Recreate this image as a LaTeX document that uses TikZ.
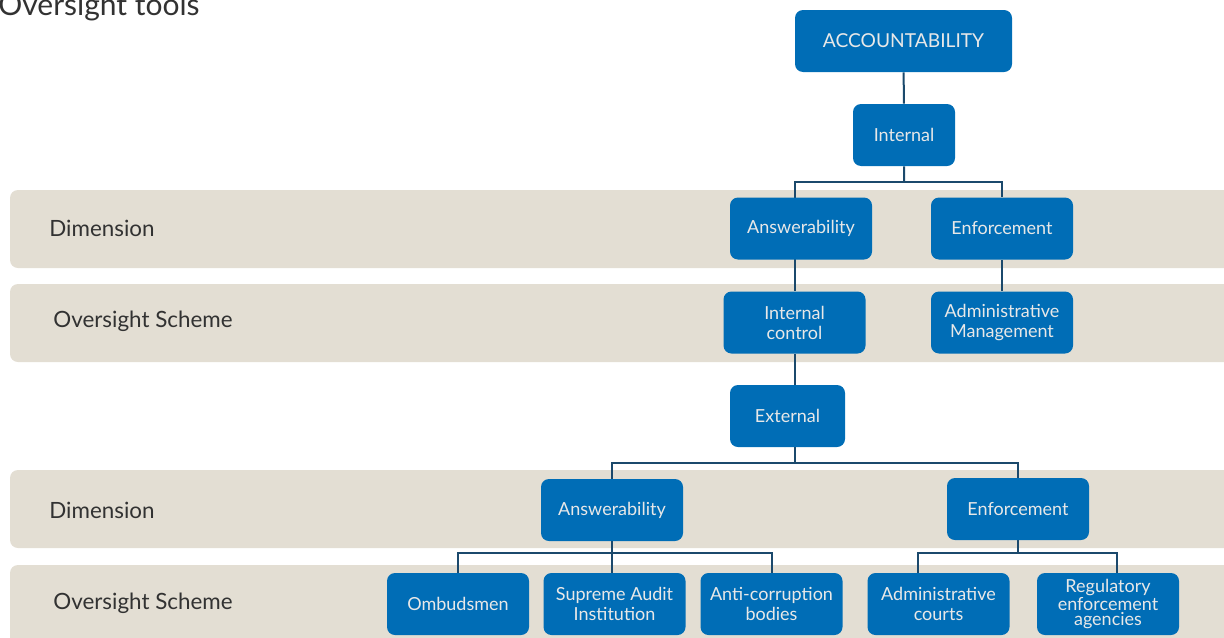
\documentclass[tikz,border=0pt]{standalone}
\usepackage{fontspec}
\setmainfont{Lato}
\definecolor{bandgray}{RGB}{227,222,211}
\definecolor{boxblue}{RGB}{0,109,182}
\definecolor{linkblue}{RGB}{27,73,108}
\definecolor{boxtext}{RGB}{232,232,232}
\definecolor{labeltext}{RGB}{50,50,50}
\pgfdeclarelayer{bands}
\pgfdeclarelayer{links}
\pgfsetlayers{bands,links,main}

\begin{document}
\begin{tikzpicture}[
	x=0.5pt, y=-0.5pt,
	box/.style={ rectangle, rounded corners=4pt, fill=boxblue, text=boxtext, align=center, inner sep=1pt, minimum width=71pt, minimum height=31pt, font=\fontsize{9}{10}\selectfont },
	link/.style={ linkblue, line width=1pt },
	band/.style={ fill=bandgray, rounded corners=4pt },
	bandlabel/.style={ anchor=west, inner sep=0pt, text=labeltext, font=\fontsize{11.2}{14}\selectfont }
]
\useasboundingbox (0,0) rectangle (1224,637);

\node at (-2,15) (title) [anchor=base west, inner sep=0pt, text=labeltext, font=\fontsize{15}{18}\selectfont] {Oversight tools};

% grey bands behind the tree
\begin{pgfonlayer}{bands}
\fill[band] (10,190) rectangle (1260,268);
\fill[band] (10,284) rectangle (1260,362);
\fill[band] (10,470) rectangle (1260,548);
\fill[band] (10,565) rectangle (1260,690);
\end{pgfonlayer}
\node at (49,228) (dim1) [bandlabel] {Dimension};
\node at (53,321) (sch1) [bandlabel] {Oversight Scheme};
\node at (49,510) (dim2) [bandlabel] {Dimension};
\node at (53,603) (sch2) [bandlabel] {Oversight Scheme};

% internal branch
\node at (903.5,41) (acc) [box, minimum width=108.5pt, font=\fontsize{9.6}{10}\selectfont] {ACCOUNTABILITY};
\node at (904,135) (int) [box, minimum width=51pt] {Internal};
\node at (801,228.5) (ans1) [box] {Answerability};
\node at (1002,228.5) (enf1) [box] {Enforcement};
\node at (794.5,322.5) (ictl) [box] {Internal\\control};
\node at (1002,322.5) (adm) [box] {Administrative\\Management};

% external branch
\node at (787.5,416) (ext) [box, minimum width=57.5pt] {External};
\node at (612,510) (ans2) [box] {Answerability};
\node at (1018,509) (enf2) [box] {Enforcement};
\node at (458,604) (omb) [box] {Ombudsmen};
\node at (614.5,604) (sai) [box] {Supreme Audit\\Institution};
\node at (771.5,604) (anti) [box] {Anti-corruption\\bodies};
\node at (938.5,604) (crt) [box] {Administrative\\courts};
\node at (1108,604) (reg) [box, font=\fontsize{9}{7.5}\selectfont] {Regulatory\\enforcement\\agencies};

\begin{pgfonlayer}{links}
\coordinate (s1) at (904,182);
\draw[link] (acc) -- (int) -- (s1);
\draw[link] (ictl) |- (s1) -| (enf1);
\draw[link] (enf1) -- (adm);
\coordinate (s2) at (794.5,463);
\draw[link] (ictl) -- (s2);
\draw[link] (ans2) |- (s2) -| (enf2);
\coordinate (s3) at (612,553);
\draw[link] (ans2) -- (ans2 |- sai.north);
\draw[link] (omb) |- (s3) -| (anti);
\coordinate (s4) at (1018,553);
\coordinate (c1) at (918,553);
\coordinate (c2) at (1117,553);
\draw[link] (enf2) -- (s4);
\draw[link] (crt.north -| c1) |- (s4) -| (reg.north -| c2);
\end{pgfonlayer}

\end{tikzpicture}
\end{document}
